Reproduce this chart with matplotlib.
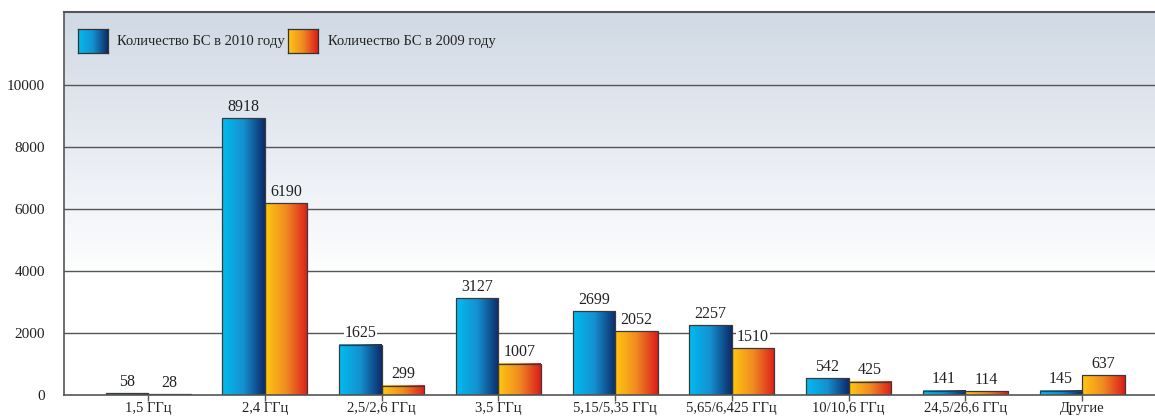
import numpy as np
import matplotlib
matplotlib.use("Agg")
import matplotlib.pyplot as plt
from matplotlib.colors import LinearSegmentedColormap

categories = ["1,5 ГГц", "2,4 ГГц", "2,5/2,6 ГГц", "3,5 ГГц", "5,15/5,35 ГГц",
              "5,65/6,425 ГГц", "10/10,6 ГГц", "24,5/26,6 ГГц", "Другие"]
bs_2010 = [58, 8918, 1625, 3127, 2699, 2257, 542, 141, 145]
bs_2009 = [28, 6190, 299, 1007, 2052, 1510, 425, 114, 637]
series_labels = ["Количество БС в 2010 году", "Количество БС в 2009 году"]
yticks = [0, 2000, 4000, 6000, 8000, 10000]

plt.rcParams['font.family'] = ['Liberation Serif', 'DejaVu Serif']

blue_cmap = LinearSegmentedColormap.from_list("b", ["#00bcf0", "#1590d0", "#0d2a68"])
orange_cmap = LinearSegmentedColormap.from_list("o", ["#ffc810", "#f08a22", "#dc1c1c"])
bg_cmap = LinearSegmentedColormap.from_list("bg", [(0, "#ffffff"), (0.3, "#ffffff"),
                                                   (0.55, "#eef1f6"), (1.0, "#d0d9e4")])

fig = plt.figure(figsize=(11.55, 4.18), dpi=100)
ax = fig.add_axes([64 / 1155, 1 - 395 / 418, 1 - 64 / 1155, (395 - 12) / 418])
YMAX = 12350
XMIN, XMAX = -0.72, 8.625
ax.set_xlim(XMIN, XMAX)
ax.set_ylim(0, YMAX)

# background gradient
grad = np.linspace(0, 1, 256).reshape(-1, 1)
ax.imshow(grad, extent=(XMIN, XMAX, 0, YMAX), origin="lower", cmap=bg_cmap,
          aspect="auto", zorder=0)

def bg_color(y):
    return bg_cmap(y / YMAX)

for t in yticks[1:]:
    ax.axhline(t, color="#555555", lw=1.0, zorder=1)
ax.axhline(YMAX, color="#555555", lw=1.5, zorder=1, clip_on=False)

x = np.arange(len(categories))
w = 0.364
hgrad = np.linspace(0, 1, 128).reshape(1, -1)

def draw_bars(xs, vals, cmap):
    bars = ax.bar(xs, vals, w, facecolor="none", edgecolor="#3a3a3a", lw=0.9, zorder=4)
    for b in bars:
        x0 = b.get_x()
        ax.imshow(hgrad, extent=(x0, x0 + b.get_width(), 0, b.get_height()),
                  cmap=cmap, aspect="auto", zorder=3, interpolation="bilinear")
    return bars

draw_bars(x - w / 2, bs_2010, blue_cmap)
draw_bars(x + w / 2, bs_2009, orange_cmap)
ax.set_xlim(XMIN, XMAX)
ax.set_ylim(0, YMAX)

for xs, vals in ((x - w / 2, bs_2010), (x + w / 2, bs_2009)):
    for xi, v in zip(xs, vals):
        ty = v + 110
        ax.text(xi, ty, str(v), ha="center", va="bottom", fontsize=11.5,
                color="#222222", zorder=6,
                bbox=dict(boxstyle="square,pad=0.05", fc=bg_color(ty + 300), ec="none"))

for s in ["top", "right"]:
    ax.spines[s].set_visible(False)
for s in ["left", "bottom"]:
    ax.spines[s].set_color("#555555")
    ax.spines[s].set_linewidth(1.2)
    ax.spines[s].set_zorder(5)

ax.set_yticks(yticks)
ax.set_yticklabels([str(t) for t in yticks], fontsize=11, color="#222222")
ax.tick_params(axis="y", length=0, pad=13.5)
ax.set_xticks(x)
ax.set_xticklabels(categories, fontsize=10.5, color="#222222")
ax.tick_params(axis="x", length=4, width=1, color="#555555", pad=1, direction="out")

# legend
def legend_patch(px0, px1, py0, py1, cmap):
    fx0 = (px0 - 64) / (1155 - 64)
    fx1 = (px1 - 64) / (1155 - 64)
    fy0 = (395 - py1) / (395 - 12)
    fy1 = (395 - py0) / (395 - 12)
    ia = ax.inset_axes([fx0, fy0, fx1 - fx0, fy1 - fy0])
    ia.imshow(hgrad, cmap=cmap, aspect="auto", interpolation="bilinear")
    ia.set_xticks([]); ia.set_yticks([])
    for sp in ia.spines.values():
        sp.set_color("#333333"); sp.set_linewidth(0.9)
    return (fy0 + fy1) / 2

yc = legend_patch(78, 108, 29, 53, blue_cmap)
ax.text((117 - 64) / (1155 - 64), yc, series_labels[0], transform=ax.transAxes,
        fontsize=10.5, va="center", ha="left", color="#222222")
legend_patch(288, 318, 29, 53, orange_cmap)
ax.text((328 - 64) / (1155 - 64), yc, series_labels[1], transform=ax.transAxes,
        fontsize=10.5, va="center", ha="left", color="#222222")

fig.savefig("out.png", dpi=100)
